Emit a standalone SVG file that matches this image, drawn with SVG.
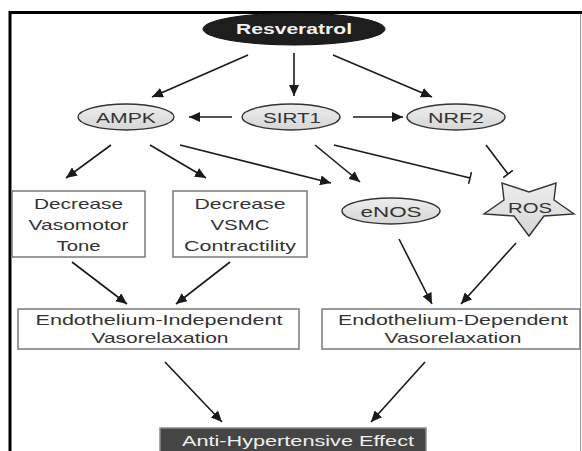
<svg xmlns="http://www.w3.org/2000/svg" width="582" height="451" viewBox="0 0 582 451">
  <style>
    .lbl { font-family: "Liberation Sans", Arial, sans-serif; font-size: 15px; fill: #333; text-anchor: middle; }
    .inv { font-family: "Liberation Sans", Arial, sans-serif; font-size: 14px; font-weight: bold; fill: #f2f2f2; text-anchor: middle; }
    .oval { fill: url(#ovalFill); stroke: #333; stroke-width: 1.4; }
    .box { fill: #fff; stroke: #7a7a7a; stroke-width: 1.5; }
    .edge { stroke: #1a1a1a; stroke-width: 1.6; fill: none; }
    .act { marker-end: url(#arrow); }
    .inh { marker-end: url(#tbar); }
  </style>
  <defs>
    <linearGradient id="ovalFill" x1="0" y1="0" x2="0" y2="1">
      <stop offset="0" stop-color="#ededed"/>
      <stop offset="1" stop-color="#d6d6d6"/>
    </linearGradient>
    <marker id="arrow" markerUnits="userSpaceOnUse" markerWidth="12" markerHeight="10" refX="11" refY="5" orient="auto">
      <path d="M0,0 L11,5 L0,10 Z" fill="#1a1a1a"/>
    </marker>
    <marker id="tbar" markerUnits="userSpaceOnUse" markerWidth="4" markerHeight="12" refX="1" refY="6" orient="auto">
      <path d="M1,0 L1,12" stroke="#1a1a1a" stroke-width="1.6"/>
    </marker>
  </defs>

  <rect width="582" height="451" fill="#fff"/>

  <!-- frame -->
  <g id="frame">
    <path d="M10,451 L10,12.5 L582,12.5" fill="none" stroke="#000" stroke-width="3"/>
    <path d="M580.5,14 L580.5,451" stroke="#999" stroke-width="1"/>
  </g>

  <!-- connectors -->
  <g id="connectors">
    <line class="edge act" x1="248" y1="55" x2="152" y2="97"/>
    <line class="edge act" x1="294" y1="53" x2="294" y2="96"/>
    <line class="edge act" x1="333" y1="55" x2="432" y2="97"/>
    <line class="edge act" x1="232" y1="117" x2="189" y2="117"/>
    <line class="edge act" x1="353" y1="117" x2="403" y2="117"/>
    <line class="edge act" x1="111" y1="145" x2="66" y2="178"/>
    <line class="edge act" x1="150" y1="145" x2="206" y2="178"/>
    <line class="edge act" x1="180" y1="145" x2="331" y2="183"/>
    <line class="edge act" x1="315" y1="145" x2="360" y2="182"/>
    <line class="edge inh" x1="334" y1="145" x2="470" y2="178"/>
    <line class="edge inh" x1="486" y1="145" x2="508" y2="174"/>
    <line class="edge act" x1="72" y1="262" x2="127" y2="304"/>
    <line class="edge act" x1="230" y1="262" x2="176" y2="304"/>
    <line class="edge act" x1="399" y1="239" x2="432" y2="304"/>
    <line class="edge act" x1="516" y1="243" x2="461" y2="304"/>
    <line class="edge act" x1="165" y1="362" x2="222" y2="422"/>
    <line class="edge act" x1="425" y1="362" x2="371" y2="422"/>
  </g>

  <g id="resveratrol">
    <ellipse cx="294" cy="29" rx="91" ry="16" fill="#1e1e1e" stroke="#111" stroke-width="1"/>
    <text class="inv" x="294" y="34" textLength="116" lengthAdjust="spacingAndGlyphs">Resveratrol</text>
  </g>

  <g id="ampk">
    <ellipse class="oval" cx="126" cy="117" rx="48" ry="13"/>
    <text class="lbl" x="126" y="122.5" textLength="60" lengthAdjust="spacingAndGlyphs">AMPK</text>
  </g>

  <g id="sirt1">
    <ellipse class="oval" cx="291" cy="117" rx="49" ry="13"/>
    <text class="lbl" x="292" y="122.5" textLength="58" lengthAdjust="spacingAndGlyphs">SIRT1</text>
  </g>

  <g id="nrf2">
    <ellipse class="oval" cx="456" cy="117" rx="49" ry="13"/>
    <text class="lbl" x="456" y="122.5" textLength="56" lengthAdjust="spacingAndGlyphs">NRF2</text>
  </g>

  <g id="vasomotor">
    <rect class="box" x="12" y="191" width="133" height="66"/>
    <text class="lbl" x="78.5" y="209" textLength="89" lengthAdjust="spacingAndGlyphs">Decrease</text>
    <text class="lbl" x="78.5" y="230" textLength="100" lengthAdjust="spacingAndGlyphs">Vasomotor</text>
    <text class="lbl" x="78.5" y="251" textLength="44" lengthAdjust="spacingAndGlyphs">Tone</text>
  </g>

  <g id="vsmc">
    <rect class="box" x="173" y="191" width="134" height="66"/>
    <text class="lbl" x="240" y="209" textLength="91" lengthAdjust="spacingAndGlyphs">Decrease</text>
    <text class="lbl" x="240" y="230" textLength="59" lengthAdjust="spacingAndGlyphs">VSMC</text>
    <text class="lbl" x="240" y="251" textLength="112" lengthAdjust="spacingAndGlyphs">Contractility</text>
  </g>

  <g id="enos">
    <ellipse class="oval" cx="391" cy="211" rx="49" ry="13"/>
    <text class="lbl" x="391" y="216.5" textLength="61" lengthAdjust="spacingAndGlyphs">eNOS</text>
  </g>

  <g id="ros">
    <polygon class="oval" points="529,236 514,216 484,214 504,200 502,183 529,192 556,183 554,200 574,214 544,216"/>
    <text class="lbl" x="530" y="213" textLength="44" lengthAdjust="spacingAndGlyphs">ROS</text>
  </g>

  <g id="independent">
    <rect class="box" x="18" y="309" width="281" height="40"/>
    <text class="lbl" x="159" y="325" textLength="247" lengthAdjust="spacingAndGlyphs">Endothelium-Independent</text>
    <text class="lbl" x="160" y="343" textLength="137" lengthAdjust="spacingAndGlyphs">Vasorelaxation</text>
  </g>

  <g id="dependent">
    <rect class="box" x="322" y="309" width="258" height="40"/>
    <text class="lbl" x="453" y="325" textLength="230" lengthAdjust="spacingAndGlyphs">Endothelium-Dependent</text>
    <text class="lbl" x="453" y="343" textLength="137" lengthAdjust="spacingAndGlyphs">Vasorelaxation</text>
  </g>

  <g id="antihypertensive">
    <rect x="160" y="428" width="266" height="30" fill="#454545" stroke="#8a8a8a" stroke-width="1.5"/>
    <text class="lbl" x="298" y="446" textLength="232" lengthAdjust="spacingAndGlyphs" style="fill:#f0f0f0">Anti-Hypertensive Effect</text>
  </g>
</svg>
